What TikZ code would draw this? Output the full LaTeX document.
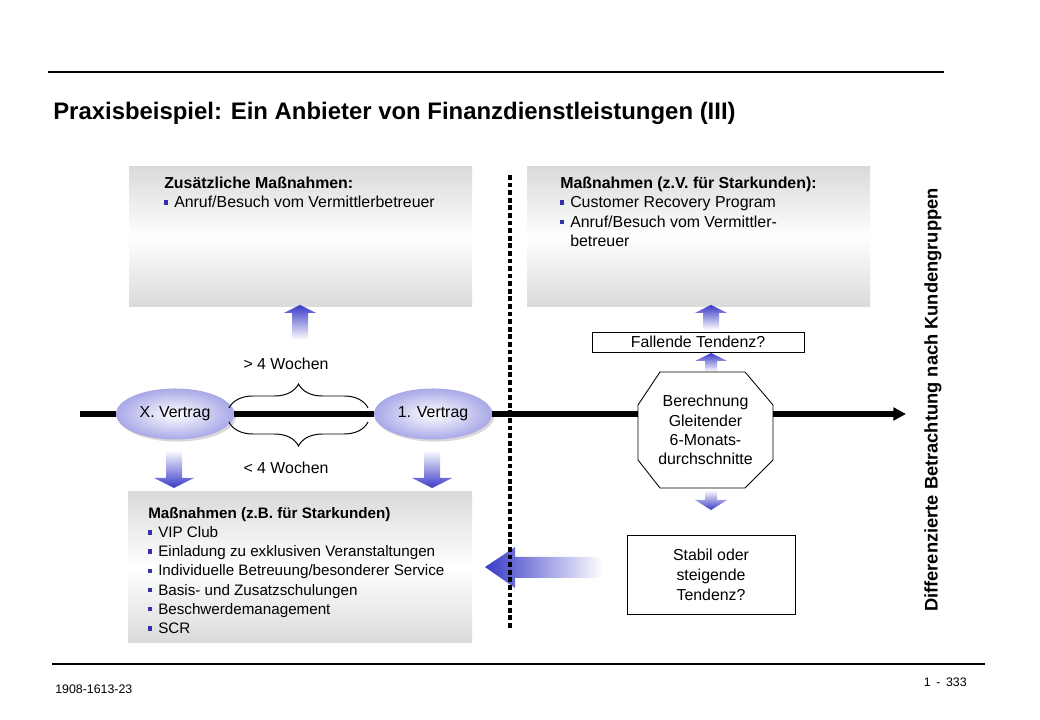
\documentclass[tikz,border=0pt]{standalone}
\usepackage{fontspec}
\setmainfont{Liberation Sans}
\usetikzlibrary{arrows.meta,shapes.geometric,decorations.pathreplacing,shadows}
\definecolor{ablue}{RGB}{58,58,200}
\definecolor{lav}{RGB}{168,168,232}
\definecolor{boxgray}{RGB}{218,218,218}
\definecolor{bblue}{RGB}{50,50,170}
\newcommand\bul{\textcolor{bblue}{\rule[0.35ex]{2.5pt}{3.2pt}}\hspace{4.6pt}}
\newcommand\bulsp{\hspace{7.1pt}}
\newcommand\ArrUp[5]{% x, ytip, ybottom, shaft half width, head half width
  \shade[top color=ablue, bottom color=white]
    (#1,#2) -- (#1+#5,#2+8) -- (#1+#4,#2+8) -- (#1+#4,#3) -- (#1-#4,#3)
    -- (#1-#4,#2+8) -- (#1-#5,#2+8) -- cycle;}
\newcommand\ArrDown[5]{% x, ytop, ytip, shaft half width, head half width
  \shade[top color=white, bottom color=ablue]
    (#1-#4,#2) -- (#1+#4,#2) -- (#1+#4,#3-10) -- (#1+#5,#3-10) -- (#1,#3)
    -- (#1-#5,#3-10) -- (#1-#4,#3-10) -- cycle;}
\begin{document}
\begin{tikzpicture}[x=0.025cm,y=-0.025cm,
  font=\fontsize{11.3}{13.6}\selectfont,
  txt/.style={inner sep=0pt, align=left, anchor=north west},
  ctxt/.style={inner sep=0pt, align=center},
  tline/.style={line width=3.6pt},
  rule/.style={line width=0.8pt},
  frame/.style={draw, line width=0.6pt, fill=white, inner sep=0pt},
  gbox/.style={top color=boxgray, bottom color=boxgray, middle color=white},
  vell/.style={ellipse, minimum width=2.95cm, minimum height=1.275cm, inner sep=0pt,
    inner color=white, outer color=lav,
    drop shadow={opacity=0.3, shadow xshift=1.5pt, shadow yshift=-1.5pt}},
  brc/.style={decorate, decoration={brace, amplitude=0.6cm}, line width=0.7pt}]
\useasboundingbox (0,0) rectangle (1040,720);
\fill[white] (0,0) rectangle (1040,720);

% header / footer rules
\draw[rule] (48,72) -- (944,72);
\draw[rule] (52,664) -- (985,664);
\node[anchor=west, inner sep=0pt] (title) at (53,113)
  {\fontsize{17}{20}\selectfont\bfseries Praxisbeispiel: Ein Anbieter von Finanzdienstleistungen (III)};
\node[anchor=west, inner sep=0pt] (code) at (55,689)
  {\fontsize{8.8}{10}\selectfont 1908-1613-23};
\node[anchor=east, inner sep=0pt] (page) at (967,682)
  {\fontsize{8.8}{10}\selectfont 1\hspace{4pt}-\hspace{4pt}333};

% gray boxes
\shade[gbox] (129,167) rectangle (472,307);
\shade[gbox] (527,167) rectangle (870,307);
\shade[gbox] (128,492) rectangle (472,643);

\node[txt] (t1) at (164,177) {\textbf{Zusätzliche Maßnahmen:}\\ \bul Anruf/Besuch vom Vermittlerbetreuer};
\node[txt] (t2) at (560,177) {\textbf{Maßnahmen (z.V. für Starkunden):}\\ \bul Customer Recovery Program\\ \bul Anruf/Besuch vom Vermittler-\\ \bulsp betreuer};
\node[txt, font=\fontsize{10.8}{13.65}\selectfont] (t3) at (148,507) {\textbf{Maßnahmen (z.B. für Starkunden)}\\ \bul VIP Club\\ \bul Einladung zu exklusiven Veranstaltungen\\ \bul Individuelle Betreuung/besonderer Service\\ \bul Basis- und Zusatzschulungen\\ \bul Beschwerdemanagement\\ \bul SCR};

% block arrows
\ArrUp{300}{305}{340}{8}{16}
\ArrUp{711}{305}{330}{8}{16}
\ArrUp{711}{353}{372}{6}{16}
\ArrDown{711}{490}{510}{6}{16}
\ArrDown{174}{450}{488}{8}{20}
\ArrDown{432}{450}{488}{8}{20}
\shade[left color=ablue, right color=white]
  (485,567) -- (515,547) -- (515,557) -- (603,557) -- (603,578) -- (515,578) -- (515,588) -- cycle;

% dotted separator
\coordinate (d0) at (510,175);
\coordinate (d1) at (510,628);

% timeline nodes
\coordinate (s0) at (80,414);
\coordinate (s1) at (906,414);
\node[vell] (xv) at (175,414) {X. Vertrag};
\node[vell] (v1) at (433,414) {1. Vertrag};
\filldraw[fill=white, line width=0.6pt] (660,372) -- (745,372) -- (773,405) -- (773,460)
  -- (745,488) -- (660,488) -- (638,460) -- (638,405) -- cycle;
\node[ctxt, minimum width=3.375cm, minimum height=2.9cm] (oct) at (705.5,430)
  {Berechnung\\ Gleitender\\ 6-Monats-\\ durchschnitte};
\draw[tline] (s0) -- (xv);
\draw[tline] (xv) -- (v1);
\draw[tline] (v1) -- (v1 -| oct.west);
\draw[tline, -{Triangle[length=9pt, width=9pt]}] (oct.east |- s1) -- (s1);
\draw[line width=3.4pt, dash pattern=on 3.4pt off 2pt] (d0) -- (d1);

% braces
\draw[brc] (229,408) -- (368,408);
\draw[brc] (368,422) -- (229,422);
\node[ctxt] (gt) at (286,364) {> 4 Wochen};
\node[ctxt] (lt) at (286,468) {< 4 Wochen};

% question boxes
\node[frame, minimum width=5.3cm, minimum height=0.5cm] (fall) at (698,342) {Fallende Tendenz?};
\node[frame, align=center, minimum width=4.2cm, minimum height=1.975cm, font=\fontsize{11.3}{14.1}\selectfont] (stab) at (711,574.5)
  {Stabil oder\\ steigende\\ Tendenz?};

% side label
\node[rotate=90, inner sep=0pt] (side) at (933,400)
  {\fontsize{13}{15}\selectfont\bfseries Differenzierte Betrachtung nach Kundengruppen};
\end{tikzpicture}
\end{document}
